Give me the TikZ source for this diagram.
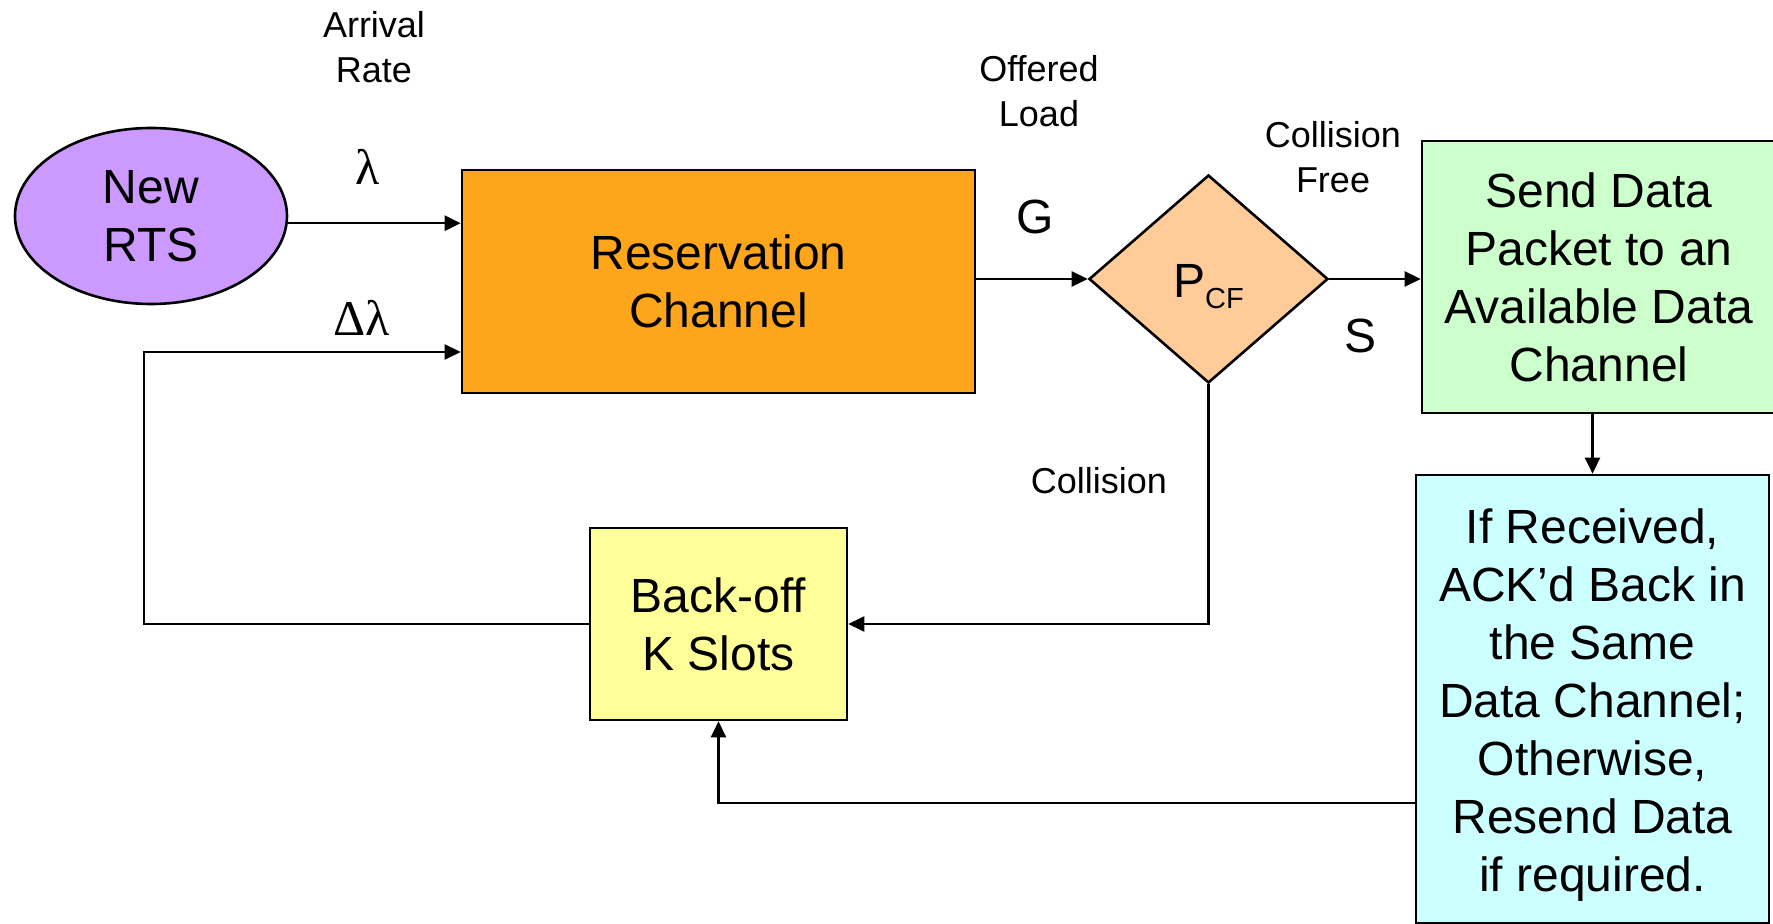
\documentclass[tikz,border=0pt]{standalone}
\usepackage{fontspec}
\setmainfont{Liberation Sans}
\newfontfamily\greekfont{Liberation Serif}
\usetikzlibrary{shapes.geometric,arrows.meta}

\definecolor{rtsviolet}{HTML}{CC99FF}
\definecolor{resorange}{HTML}{FDA51B}
\definecolor{pcfpeach}{HTML}{FFCC99}
\definecolor{sendgreen}{HTML}{CCFFCC}
\definecolor{ackcyan}{HTML}{CCFFFF}
\definecolor{backyellow}{HTML}{FFFF99}

\begin{document}
\begin{tikzpicture}[x=0.5pt,y=-0.5pt,
  box/.style={draw=black, line width=1.3pt, inner sep=0pt, align=center,
              font=\fontsize{24}{29}\selectfont},
  lbl/.style={align=center, inner sep=0pt, font=\fontsize{18}{22.5}\selectfont},
  big/.style={inner sep=0pt, align=center, font=\fontsize{24}{29}\selectfont},
  greek/.style={inner sep=0pt, font=\greekfont\fontsize{25}{29}\selectfont},
  arr/.style={-{Triangle[length=8pt,width=7.5pt]}, line width=1.25pt},
]
\useasboundingbox (0,0) rectangle (1773,924);

% blocks
\node[box, ellipse, fill=rtsviolet, minimum width=136pt, minimum height=88pt]
  (newrts) at (151,216) {New\\RTS};
\node[box, rectangle, fill=resorange, minimum width=256.5pt, minimum height=111.5pt]
  (res) at (718.5,281.5) {Reservation\\Channel};
\node[box, diamond, fill=pcfpeach, minimum width=119.5pt, minimum height=104pt]
  (dia) at (1208.5,279) {};
\node[big, anchor=base] (pcf) at (1208.5,298)
  {P\raisebox{-5.5pt}{\fontsize{14.5}{14.5}\selectfont CF}};
\node[box, rectangle, fill=sendgreen, minimum width=177pt, minimum height=136pt]
  (send) at (1599,277) {Send Data\\Packet to an\\Available Data\\Channel};
\node[box, rectangle, fill=ackcyan, minimum width=176.5pt, minimum height=224pt]
  (ack) at (1592.5,699) {};
\node[big] (acktext) at (1592.5,705)
  {If Received,\\ACK’d Back in\\the Same\\Data Channel;\\Otherwise,\\Resend Data\\if required.};
\node[box, rectangle, fill=backyellow, minimum width=128.5pt, minimum height=96pt]
  (back) at (718.5,624) {Back-off\\K Slots};

% labels
\node[lbl] (arrival) at (374,47) {Arrival\\Rate};
\node[greek] (lam) at (368,167) {λ};
\node[greek] (dlam) at (362,318) {Δλ};
\node[lbl] (offered) at (1039,91) {Offered\\Load};
\node[big] (glbl) at (1035,217) {G};
\node[lbl] (cfree) at (1333,157) {Collision\\Free};
\node[big] (slbl) at (1360,336) {S};
\node[lbl] (coll) at (1099,481) {Collision};

% connectors
\coordinate (loop) at (144,352);
\coordinate (ret) at (1416,803);
\draw[arr] (newrts.-3.4) -- (newrts.-3.4 -| res.west);
\draw[arr] (back.west) -| (loop) -- (loop -| res.west);
\draw[arr] (dia.west -| res.east) -- (dia.west);
\draw[arr] (dia.east) -- (dia.east -| send.west);
\draw[arr] (dia.south) |- (back.east);
\draw[arr] (ack.north |- send.south) -- (ack.north);
\draw[arr] (ret) -| (back.south);
\end{tikzpicture}
\end{document}
